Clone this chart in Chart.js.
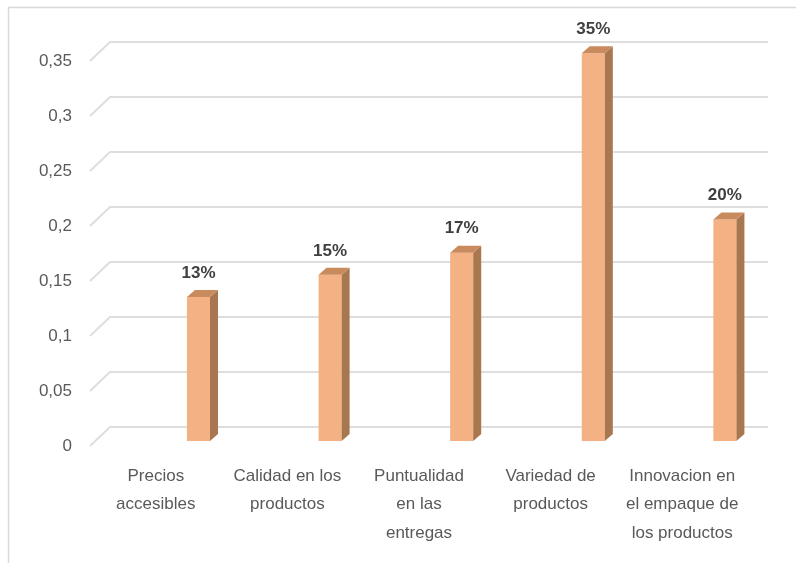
<!DOCTYPE html>
<html>
<head>
<meta charset="utf-8">
<script src="https://cdn.jsdelivr.net/npm/chart.js@4"></script>
<style>
  html, body { margin: 0; padding: 0; background: #ffffff; }
  #wrap { width: 796px; height: 563px; }
</style>
</head>
<body>
<div id="wrap"><canvas id="c" width="796" height="563"></canvas></div>
<script>
// Categories (multi-line axis labels)
const categories = [
  ['Precios', 'accesibles'],
  ['Calidad en los', 'productos'],
  ['Puntualidad', 'en las', 'entregas'],
  ['Variedad de', 'productos'],
  ['Innovacion en', 'el empaque de', 'los productos']
];

// Share of responses per factor
const shares = [0.13, 0.15, 0.17, 0.35, 0.20];

// Empty series that hold the depth slots in front of each 3D column
const depthSlotA = [null, null, null, null, null];
const depthSlotB = [null, null, null, null, null];

const FONT = "'Liberation Sans Narrow', 'Liberation Sans', Arial, sans-serif";
const DEPTH_X = 20, DEPTH_Y = 19;     // floor / wall offset
const COL_DX = 8, COL_DY = 7;         // column side thickness

// Outer frame of the chart object
const framePlugin = {
  id: 'frame',
  beforeDraw(chart) {
    const ctx = chart.ctx;
    ctx.save();
    ctx.strokeStyle = '#d9d9d9';
    ctx.lineWidth = 1.5;
    ctx.beginPath();
    ctx.moveTo(8.5, chart.height + 5);
    ctx.lineTo(8.5, 7.5);
    ctx.lineTo(chart.width + 5, 7.5);
    ctx.stroke();
    ctx.restore();
  }
};

// Back-wall gridlines with a short floor diagonal
const wallGridPlugin = {
  id: 'wallGrid',
  beforeDatasetsDraw(chart) {
    const ctx = chart.ctx;
    const ys = chart.scales.y;
    const area = chart.chartArea;
    ctx.save();
    ctx.strokeStyle = '#dedede';
    ctx.lineWidth = 2;
    ys.ticks.forEach(t => {
      const y = ys.getPixelForValue(t.value);
      ctx.beginPath();
      ctx.moveTo(area.left, y);
      ctx.lineTo(area.left + DEPTH_X, y - DEPTH_Y);
      ctx.lineTo(area.right + DEPTH_X, y - DEPTH_Y);
      ctx.stroke();
    });
    ctx.restore();
  }
};

// Side and top faces of the columns plus value labels
const columnFacesPlugin = {
  id: 'columnFaces',
  afterDatasetsDraw(chart) {
    const ctx = chart.ctx;
    const meta = chart.getDatasetMeta(2);
    ctx.save();
    meta.data.forEach((bar, i) => {
      const { x, y, base, width } = bar.getProps(['x', 'y', 'base', 'width'], true);
      const l = x - width / 2, r = x + width / 2;
      // side face
      ctx.fillStyle = '#a8764f';
      ctx.beginPath();
      ctx.moveTo(r, y);
      ctx.lineTo(r + COL_DX, y - COL_DY);
      ctx.lineTo(r + COL_DX, base - COL_DY);
      ctx.lineTo(r, base);
      ctx.closePath();
      ctx.fill();
      // top face
      ctx.fillStyle = '#c98a5e';
      ctx.beginPath();
      ctx.moveTo(l, y);
      ctx.lineTo(l + COL_DX, y - COL_DY);
      ctx.lineTo(r + COL_DX, y - COL_DY);
      ctx.lineTo(r, y);
      ctx.closePath();
      ctx.fill();
      // value label
      ctx.fillStyle = '#404040';
      ctx.font = 'bold 17px ' + FONT;
      ctx.textAlign = 'center';
      ctx.textBaseline = 'middle';
      ctx.fillText(Math.round(shares[i] * 100) + '%', x, y - 24);
    });
    ctx.restore();
  }
};

new Chart(document.getElementById('c'), {
  type: 'bar',
  data: {
    labels: categories,
    datasets: [
      { label: 'slotA', data: depthSlotA, yAxisID: 'yb' },
      { label: 'slotB', data: depthSlotB, yAxisID: 'yb' },
      {
        label: 'Porcentaje',
        data: shares,
        yAxisID: 'yb',
        backgroundColor: '#f4b183',
        borderWidth: 0,
        clip: false
      }
    ]
  },
  options: {
    responsive: false,
    animation: false,
    events: [],
    datasets: { bar: { categoryPercentage: 0.973, barPercentage: 0.54 } },
    layout: { padding: { left: 0, right: 48, top: 61, bottom: 0 } },
    plugins: { legend: { display: false }, tooltip: { enabled: false } },
    scales: {
      x: {
        grid: { display: false, drawTicks: false },
        border: { display: false },
        afterFit(scale) { scale.height = 117; },
        ticks: {
          autoSkip: false,
          maxRotation: 0,
          minRotation: 0,
          padding: 16,
          color: '#595959',
          font: { family: FONT, size: 17, lineHeight: '28.5px' }
        }
      },
      y: {
        min: 0,
        max: 0.35,
        afterFit(scale) { scale.width = 90; },
        grid: { display: false, drawTicks: false },
        border: { display: false },
        ticks: {
          stepSize: 0.05,
          padding: 18,
          color: '#595959',
          font: { family: FONT, size: 17 },
          callback: v => String(+v.toFixed(2)).replace('.', ',')
        }
      },
      yb: {
        display: false,
        min: -0.0045,
        max: 0.343
      }
    }
  },
  plugins: [framePlugin, wallGridPlugin, columnFacesPlugin]
});
</script>
</body>
</html>
